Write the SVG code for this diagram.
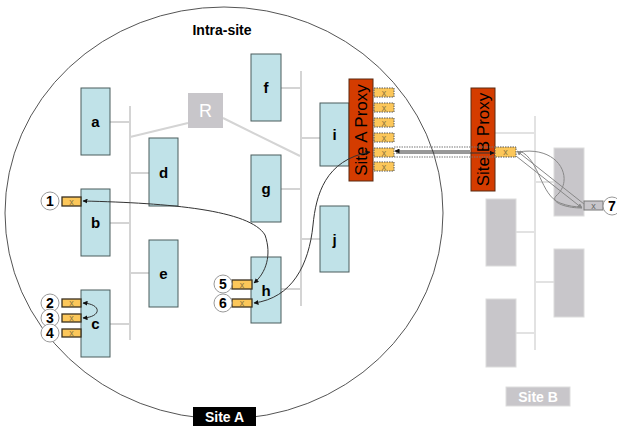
<svg xmlns="http://www.w3.org/2000/svg" width="617" height="427" viewBox="0 0 617 427">
<style>
.node rect{fill:#c0e2e8;stroke:#4a5c5c;stroke-width:1}
.node text{font-family:"Liberation Sans",Arial,sans-serif;font-weight:bold;font-size:15px;fill:#000;text-anchor:middle}
.gnode{fill:#c8c6ca;stroke:#dcdcdc;stroke-width:1}
.bus{stroke:#d4d4d4;stroke-width:2;fill:none}
.port{fill:#fcc75a;stroke:#3a3020;stroke-width:1.3}
.pport{fill:#fcc75a;stroke:#555;stroke-width:1;stroke-dasharray:1.5 1}
.px{font-family:"Liberation Sans",Arial,sans-serif;font-size:9px;fill:#8a7440;text-anchor:middle}
.num circle{fill:#fff;stroke:#999;stroke-width:1}
.num text{font-family:"Liberation Sans",Arial,sans-serif;font-weight:bold;font-size:14px;fill:#000;text-anchor:middle}
.proxy{fill:#d43c00;stroke:#5a2a10;stroke-width:1}
.ptext{font-family:"Liberation Sans",Arial,sans-serif;font-size:17px;fill:#000;text-anchor:middle}
.conn{fill:none;stroke:#333;stroke-width:1}
.gconn{fill:none;stroke:#888;stroke-width:1}
.label{font-family:"Liberation Sans",Arial,sans-serif;font-weight:bold;font-size:14px;text-anchor:middle}
</style>
<defs>
<marker id="arr" viewBox="0 0 10 10" refX="9" refY="5" markerWidth="5" markerHeight="5" orient="auto-start-reverse">
<path d="M0,0 L10,5 L0,10 z" fill="#111"/>
</marker>
<marker id="garr" viewBox="0 0 10 10" refX="9" refY="5" markerWidth="5" markerHeight="5" orient="auto-start-reverse">
<path d="M0,0 L10,5 L0,10 z" fill="#888"/>
</marker>
</defs>
<rect width="617" height="427" fill="#fff"/>

<!-- Site A boundary -->
<g id="siteA-boundary">
<ellipse cx="224" cy="213" rx="219" ry="206" fill="none" stroke="#555" stroke-width="1"/>
<text class="label" x="222" y="35" fill="#000">Intra-site</text>
</g>

<!-- buses -->
<g id="buses">
<path class="bus" d="M130 106 V340 M110 122 H130 M130 173 H149 M110 223 H130 M130 273 H149 M110 324 H130"/>
<path class="bus" d="M130 137 L188 123 M223 118 L300 156"/>
<path class="bus" d="M301 71 V306 M281 88 H301 M301 138 H320 M281 189 H301 M301 239 H320 M281 289 H301"/>
<path class="bus" style="stroke:#e2e2e2" d="M535 116 V350 M495 133 H535 M535 182 H554 M516 232 H535 M535 282 H554 M516 333 H535"/>
</g>

<!-- Site B nodes -->
<g id="siteB-nodes">
<rect class="gnode" x="554" y="148" width="30" height="68"/>
<rect class="gnode" x="486" y="199" width="30" height="67"/>
<rect class="gnode" x="554" y="249" width="30" height="68"/>
<rect class="gnode" x="486" y="299" width="30" height="68"/>
</g>

<g id="R">
<rect x="188" y="93" width="35" height="35" fill="#c8c6ca"/>
<text x="205.5" y="117" font-family="Liberation Sans,Arial,sans-serif" font-size="18" fill="#fff" text-anchor="middle">R</text>
</g>

<g id="a" class="node"><rect x="81" y="88" width="29" height="67"/><text x="95.5" y="127">a</text></g>
<g id="b" class="node"><rect x="81" y="189" width="29" height="67"/><text x="95.5" y="228">b</text></g>
<g id="c" class="node"><rect x="81" y="290" width="29" height="67"/><text x="95.5" y="329">c</text></g>
<g id="d" class="node"><rect x="149" y="138" width="29" height="68"/><text x="163.5" y="178">d</text></g>
<g id="e" class="node"><rect x="149" y="240" width="29" height="67"/><text x="163.5" y="279">e</text></g>
<g id="f" class="node"><rect x="251" y="54" width="30" height="67"/><text x="266" y="93">f</text></g>
<g id="g" class="node"><rect x="251" y="155" width="30" height="67"/><text x="266" y="194">g</text></g>
<g id="h" class="node"><rect x="251" y="257" width="30" height="66"/><text x="266" y="296">h</text></g>
<g id="i" class="node"><rect x="320" y="103" width="29" height="63"/><text x="334.5" y="140">i</text></g>
<g id="j" class="node"><rect x="320" y="206" width="29" height="66"/><text x="334.5" y="245">j</text></g>

<g id="siteA-proxy">
<rect class="proxy" x="349" y="79" width="24" height="102"/>
<text class="ptext" transform="translate(367 130) rotate(-90)">Site A Proxy</text>
<rect class="pport" x="374" y="88" width="20" height="9"/><text class="px" x="384" y="96">x</text>
<rect class="pport" x="374" y="103" width="20" height="9"/><text class="px" x="384" y="111">x</text>
<rect class="pport" x="374" y="118" width="20" height="9"/><text class="px" x="384" y="126">x</text>
<rect class="pport" x="374" y="133" width="20" height="9"/><text class="px" x="384" y="141">x</text>
<rect class="pport" x="374" y="148" width="20" height="9"/><text class="px" x="384" y="156">x</text>
<rect class="pport" x="374" y="162" width="20" height="9"/><text class="px" x="384" y="170">x</text>
</g>

<g id="siteB-proxy">
<rect class="proxy" x="471" y="88" width="24" height="103"/>
<text class="ptext" transform="translate(489 139.5) rotate(-90)">Site B Proxy</text>
<rect class="pport" x="495" y="147" width="21" height="10"/><text class="px" x="505.5" y="155">x</text>
</g>

<g id="ports">
<rect class="port" x="62" y="197" width="19" height="9"/><text class="px" x="71.5" y="205">x</text>
<rect class="port" x="62" y="299" width="19" height="8"/><text class="px" x="71.5" y="306">x</text>
<rect class="port" x="62" y="314" width="19" height="8"/><text class="px" x="71.5" y="321">x</text>
<rect class="port" x="62" y="329" width="19" height="8"/><text class="px" x="71.5" y="336">x</text>
<rect class="port" x="232" y="280" width="20" height="9"/><text class="px" x="242" y="288">x</text>
<rect class="port" x="232" y="299" width="20" height="8"/><text class="px" x="242" y="306">x</text>
<rect x="584" y="201" width="19" height="9" fill="#c8c6ca" stroke="#777" stroke-width="1"/><text class="px" x="593.5" y="209" style="fill:#666">x</text>
</g>

<g id="n1" class="num"><circle cx="50" cy="201" r="9"/><text x="50" y="206">1</text></g>
<g id="n2" class="num"><circle cx="50" cy="303" r="9"/><text x="50" y="308">2</text></g>
<g id="n3" class="num"><circle cx="50" cy="318" r="9"/><text x="50" y="323">3</text></g>
<g id="n4" class="num"><circle cx="50" cy="333" r="9"/><text x="50" y="338">4</text></g>
<g id="n5" class="num"><circle cx="223" cy="284" r="9"/><text x="223" y="289">5</text></g>
<g id="n6" class="num"><circle cx="223" cy="303" r="9"/><text x="223" y="308">6</text></g>
<g id="n7" class="num"><circle cx="612" cy="206" r="9"/><text x="612" y="211">7</text></g>

<g id="connectors">
<path class="conn" d="M83 201 C170 203 250 210 265 235 C272 255 266 273 254 283" marker-start="url(#arr)" marker-end="url(#arr)"/>
<path class="conn" d="M83 303 C102 304 102 317 83 318" marker-start="url(#arr)" marker-end="url(#arr)"/>
<path class="conn" d="M370 152 C325 160 316 195 313 225 C309 265 292 298 254 303" marker-start="url(#arr)" marker-end="url(#arr)"/>
<path d="M394 147 H495 M394 157 H495" fill="none" stroke="#777" stroke-width="1" stroke-dasharray="1.5 1"/>
<path class="conn" d="M470 151 H395" marker-end="url(#arr)"/>
<path class="conn" d="M396 153 H494" marker-end="url(#arr)"/>
<path class="gconn" d="M584 204 L517 151" marker-end="url(#garr)"/>
<path class="gconn" d="M516 156 L582 208" marker-end="url(#garr)"/>
<path class="gconn" stroke="#aaa" d="M518 152 C560 145 575 180 556 196 C550 202 565 208 582 208"/>
<path class="gconn" stroke="#bbb" d="M520 151 C540 160 540 195 560 203 C568 206 575 207 582 207"/>
</g>

<g id="siteA-label">
<rect x="193" y="407" width="63" height="19" fill="#000"/>
<text class="label" x="224.5" y="422" fill="#fff">Site A</text>
</g>
<g id="siteB-label">
<rect x="506" y="387" width="64" height="19" fill="#c8c6ca" stroke="#ddd"/>
<text class="label" x="538" y="402" fill="#fff">Site B</text>
</g>
</svg>
